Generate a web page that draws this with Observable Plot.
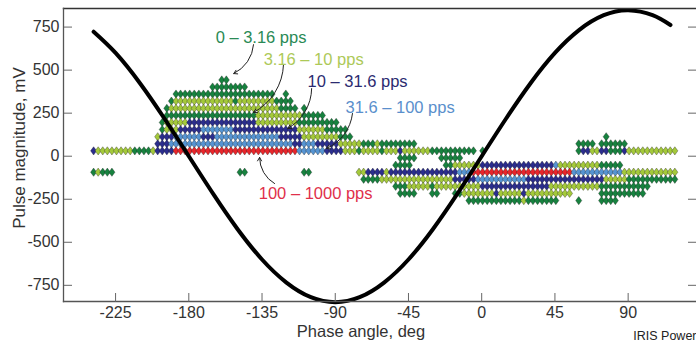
<!DOCTYPE html>
<html><head><meta charset="utf-8">
<script src="https://cdn.jsdelivr.net/npm/d3@7"></script>
<script src="https://cdn.jsdelivr.net/npm/@observablehq/plot@0.6"></script>
<style>body{margin:0;background:#fff;overflow:hidden;font-family:"Liberation Sans",Arial,sans-serif} svg{display:block}</style>
</head><body><div id="chart"></div>
<script>
// pulse-rate categories
const rateKeys = ["g", "l", "b", "c", "r"];
const rateLabels = ["0 – 3.16 pps", "3.16 – 10 pps", "10 – 31.6 pps", "31.6 – 100 pps", "100 – 1000 pps"];
const rateColors = ["#17823f", "#a4c93b", "#2b2d8d", "#5694d2", "#e8262b"];
const labelColors = ["#2a8a55", "#adc958", "#2b2b70", "#5a8fcc", "#e0304a"];

// phase windows (deg) and magnitude windows (mV)
const phaseStart = -238.5;
const phaseStep = 2.8125;
const magnitudes = [443, 402, 361, 320, 278, 237, 196, 155, 113, 72, 31, -10, -52, -93, -134, -175, -216, -258];
// occupied phase windows per magnitude window: "start-end" + rate key
const rows = [
  "28-29g",
  "26-33g",
  "18-39g 42g",
  "17g 18-30l 31g 32-39l 40-43g",
  "16g 17-40l 41-44g 46g",
  "16g 17-35g 36-45l 46-50g",
  "15g 16-20l 21-35b 36-44l 45-53g",
  "15g 16-18l 19-23b 24-30c 31-44b 45-50l 51-55g",
  "14l 15-17b 18-23c 24-26b 27-40c 41-45b 46-53l 54-56g 112g",
  "14-16b 17-43c 44-45b 46-48c 49-53b 54-58l 59-61g 62l 63-70g 106-109g 111-116g",
  "0b 1-8l 9-12g 13l 14-17b 18-44r 45-50c 51-54b 55-57l 58g 59-62l 63g 64-66l 67b 68-73l 74-83g 85g 106g 107-108b 109-110l 111-112b 113-115g 116b 117-127l",
  "67-70g 76-80g",
  "66-69g 77-78g 79-84l 85-100b 101c 102-110l 111-115g",
  "0g 1l 2-4g 32-33g 46-47g 58-59l 60-63b 64l 65-79b 80-82c 83-104r 105-115c 116-127l",
  "59-62g 63-78l 79-83b 84-94c 95-111b 112-116l 117-127g",
  "66-68g 69-73l 74g 75-84l 85-99b 100-110l 111-121g",
  "67-70g 74-75g 79-80g 81-87l 88b 89-93l 94b 95-104l 111-120g",
  "82-93g 94l 95-101g 106g 111-114g"
];

// AC reference voltage
const sinePhase = [-238.5, -225, -210, -195, -180, -165, -150, -135, -120, -105, -90, -75, -60, -45, -30, -15, 0, 15, 30, 45, 60, 75, 90, 105, 116];
const sineMV = [723, 600, 424, 219, 0, -219, -424, -600, -734, -819, -848, -819, -734, -600, -424, -219, 0, 219, 424, 600, 734, 819, 848, 819, 762];

const xTicks = [-225, -180, -135, -90, -45, 0, 45, 90];
const yTicks = [-750, -500, -250, 0, 250, 500, 750];

// annotation anchors (data units)
const labelPhase = [-163.5, -134, -107, -83.7, -137];
const labelMV = [686, 561, 431, 280, -217];
const arrowFromPhase = [-140.2, -121.8, -104.5, -79.4, -127.3];
const arrowFromMV = [648, 532, 393, 248, -159];
const arrowToPhase = [-152.4, -140.2, -119.2, -95.4, -136.5];
const arrowToMV = [480, 254, 161, 45, -7];

const points = [];
rows.forEach((row, ri) => {
  for (const tok of row.trim().split(/\s+/)) {
    const m = tok.match(/^(\d+)(?:-(\d+))?([glbcr])$/);
    const a = +m[1], b = m[2] ? +m[2] : a;
    for (let i = a; i <= b; i++) points.push({phase: phaseStart + i * phaseStep, mV: magnitudes[ri], rate: rateLabels[rateKeys.indexOf(m[3])]});
  }
});
const sine = sinePhase.map((p, i) => ({phase: p, mV: sineMV[i]}));
const labels = rateLabels.map((t, i) => ({text: t, phase: labelPhase[i], mV: labelMV[i], color: labelColors[i]}));
const arrows = arrowFromPhase.map((p, i) => ({x1: p, y1: arrowFromMV[i], x2: arrowToPhase[i], y2: arrowToMV[i]}));

// a slightly wide diamond marker
const wideDiamond = {
  draw(context, size) {
    const k = Math.sqrt(size / Math.PI);
    const w = k * 1.22, h = k * 1.65;
    context.moveTo(0, -h);
    context.lineTo(w, 0);
    context.lineTo(0, h);
    context.lineTo(-w, 0);
    context.closePath();
  }
};

const fmt = d => String(d);
const chart = Plot.plot({
  width: 696, height: 345,
  marginLeft: 63, marginRight: 0, marginTop: 8, marginBottom: 44,
  style: {fontFamily: '"Liberation Sans", Arial, sans-serif', background: "#fff"},
  x: {domain: [-257, 132]},
  y: {domain: [-844, 858]},
  color: {domain: rateLabels, range: rateColors},
  marks: [
    Plot.dot(points, {x: "phase", y: "mV", fill: "rate", symbol: wideDiamond, r: 2.5, stroke: "#1a1a1a", strokeWidth: 0.45, strokeOpacity: 0.75}),
    Plot.line(sine, {x: "phase", y: "mV", stroke: "#000", strokeWidth: 4, curve: "natural"}),
    Plot.arrow(arrows, {x1: "x1", y1: "y1", x2: "x2", y2: "y2", bend: 30, stroke: "#222", strokeWidth: 1, headLength: 6}),
    Plot.text(labels, {x: "phase", y: "mV", text: "text", fill: "color", textAnchor: "start", lineAnchor: "middle", fontSize: 16.5}),
    Plot.frame({anchor: "top", stroke: "#333", strokeWidth: 1.4}),
    Plot.frame({anchor: "left", stroke: "#555", strokeWidth: 1.3}),
    Plot.frame({anchor: "bottom", stroke: "#555", strokeWidth: 1.3}),
    Plot.axisY(yTicks, {anchor: "left", tickSize: 0, tickPadding: 4, fontSize: 16, fill: "#333", tickFormat: fmt, label: null}),
    Plot.axisY(yTicks, {anchor: "right", frameAnchor: "left", tickSize: 8, fill: "none", stroke: "#666", label: null}),
    Plot.axisY(yTicks, {anchor: "left", frameAnchor: "right", tickSize: 8, fill: "none", stroke: "#666", label: null}),
    Plot.axisX(xTicks, {anchor: "bottom", tickSize: 0, tickPadding: 5, fontSize: 16, fill: "#333", tickFormat: fmt, label: null}),
    Plot.axisX(xTicks, {anchor: "top", frameAnchor: "bottom", tickSize: 9, fill: "none", stroke: "#666", label: null}),
    Plot.text(["Pulse magnitude, mV"], {frameAnchor: "left", textAnchor: "middle", rotate: -90, dx: -39, dy: -7, lineAnchor: "bottom", fontSize: 17, fill: "#333"}),
    Plot.text(["Phase angle, deg"], {frameAnchor: "bottom", textAnchor: "middle", dx: -19, dy: 35, lineAnchor: "bottom", fontSize: 16.5, fill: "#333"}),
    Plot.text(["IRIS Power"], {frameAnchor: "bottom-right", textAnchor: "end", dx: 0, dy: 38, lineAnchor: "bottom", fontSize: 12.5, fill: "#222"})
  ]
});
document.getElementById("chart").appendChild(chart);
</script>
</body></html>
